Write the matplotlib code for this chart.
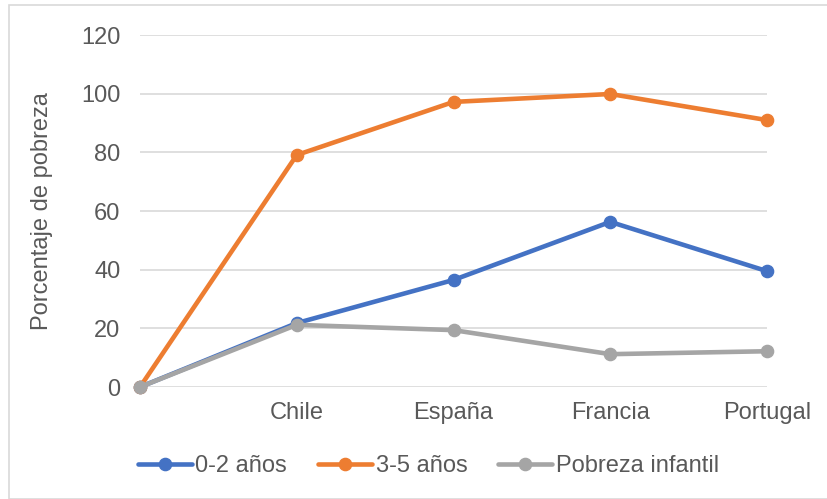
import matplotlib.pyplot as plt
from matplotlib.patches import Rectangle

plt.rcParams['font.family'] = ['Liberation Sans', 'DejaVu Sans']

# data
categories = ['', 'Chile', 'España', 'Francia', 'Portugal']
edad_0_2 = [0, 21.8, 36.5, 56.3, 39.5]
edad_3_5 = [0, 79.1, 97.2, 99.9, 91.0]
pobreza_infantil = [0, 21.2, 19.4, 11.2, 12.2]

series = [
    ('0-2 años', edad_0_2, '#4472C4'),
    ('3-5 años', edad_3_5, '#ED7D31'),
    ('Pobreza infantil', pobreza_infantil, '#A5A5A5'),
]

text_color = '#595959'
fs = 17

fig = plt.figure(figsize=(8.27, 4.99), dpi=100)
ax = fig.add_axes([0.1693, 0.2244, 0.7582, 0.7054])

x = list(range(len(categories)))
for name, vals, col in series:
    ax.plot(x, vals, color=col, lw=3.3, marker='o', markersize=8.8,
            label=name, solid_capstyle='round', clip_on=False, zorder=3)

ax.set_xlim(0, len(categories) - 1)
ax.set_ylim(0, 120)
ax.set_yticks(range(0, 121, 20))
ax.set_xticks(x)
ax.set_xticklabels(categories)
ax.grid(axis='y', color='#D9D9D9', lw=1.2)
ax.set_axisbelow(True)
for s in ax.spines.values():
    s.set_visible(False)
ax.tick_params(length=0, labelsize=fs, colors=text_color)
ax.tick_params(axis='x', pad=11)
ax.tick_params(axis='y', pad=14)
ax.set_ylabel('Porcentaje de pobreza', fontsize=fs, color=text_color, labelpad=20)

fig.legend(loc='center', bbox_to_anchor=(0.518, 0.066), ncol=3, frameon=False,
           fontsize=fs, labelcolor=text_color, handlelength=2.3,
           handletextpad=0.15, columnspacing=1.3)

# outer chart border
fig.patches.append(Rectangle((0.011, 0.0), 0.99, 0.99, transform=fig.transFigure,
                             fill=False, edgecolor='#D9D9D9', lw=1.2))

plt.savefig('out.png', dpi=100)
